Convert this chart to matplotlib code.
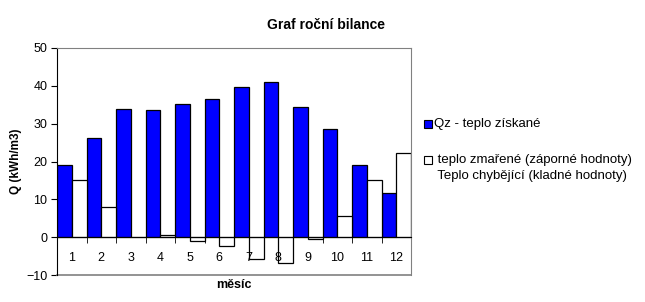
'''Graf roční bilance - monthly heat balance bars.'''
import matplotlib
matplotlib.use('Agg')
from matplotlib import pyplot as plt
from matplotlib.patches import Rectangle
import numpy as np

months = ['1', '2', '3', '4', '5', '6', '7', '8', '9', '10', '11', '12']
gained = [19.1, 26.3, 34.0, 33.5, 35.3, 36.4, 39.8, 40.9, 34.5, 28.7, 19.1, 11.7]
balance = [15.1, 8.0, 0.0, 0.5, -1.1, -2.4, -5.8, -6.9, -0.5, 5.6, 15.1, 22.3]

label_gained = 'Qz - teplo získané'
label_balance = ' teplo zmařené (záporné hodnoty)'
label_balance2 = ' Teplo chybějící (kladné hodnoty)'

plt.rcParams['font.family'] = ['Liberation Sans', 'DejaVu Sans']
BLUE = '#0000ff'
GREY = '#808080'

fig = plt.figure(figsize=(6.45, 3.02), dpi=100)
ax = fig.add_axes([57/645, 27/302, 354/645, 227/302])

x = np.arange(1, len(months) + 1)
ax.bar(x - 0.25, gained, width=0.5, color=BLUE, edgecolor='black', linewidth=0.9)
ax.bar(x + 0.25, balance, width=0.5, color='white', edgecolor='black', linewidth=0.9)

ax.set_xlim(0.5, len(months) + 0.5)
ax.set_ylim(-10, 50)
ax.set_yticks(range(-10, 51, 10))

# x axis sits on zero, labels hang below it
ax.spines['bottom'].set_position(('data', 0))
ax.spines['bottom'].set_color('black')
ax.spines['left'].set_color('black')
for side in ('top', 'right'):
    ax.spines[side].set_color(GREY)
ax.plot([0, 1], [0, 0], color=GREY, lw=1.2, transform=ax.transAxes, clip_on=False)

ax.set_xticks(x)
ax.set_xticklabels(months)
ax.set_xticks(x[:-1] + 0.5, minor=True)
ax.tick_params(axis='x', which='major', length=0, pad=11, labelsize=9)
ax.tick_params(axis='x', which='minor', length=4, direction='out', color='black')
ax.tick_params(axis='y', length=4, direction='out', labelsize=9, pad=3)

ax.set_title('Graf roční bilance', fontsize=10, fontweight='bold', x=0.76, pad=14)
ax.set_ylabel('Q (kWh/m3)', fontsize=8.5, fontweight='bold', labelpad=3)
fig.text(234/645, 1 - 285/302, 'měsíc', fontsize=9, fontweight='bold',
         ha='center', va='center')

# Legend
for yy, fc in ((124, BLUE), (160, 'white')):
    fig.patches.append(Rectangle((424/645, 1 - (yy + 4)/302), 8/645, 8/302,
                                 facecolor=fc, edgecolor='black', lw=0.8,
                                 transform=fig.transFigure))
fig.text(434/645, 1 - 124/302, label_gained, fontsize=9.5, va='center')
fig.text(434/645, 1 - 160/302, label_balance, fontsize=9.5, va='center')
fig.text(434/645, 1 - 176/302, label_balance2, fontsize=9.5, va='center')

fig.savefig('out.png', dpi=100)
